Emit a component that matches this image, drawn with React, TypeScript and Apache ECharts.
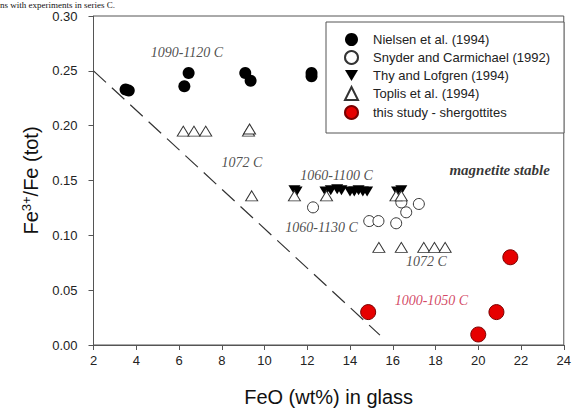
import React, { useEffect, useRef } from "react";
import * as echarts from "echarts";

const seriesNames = [
  "Nielsen et al. (1994)",
  "Snyder and Carmichael (1992)",
  "Thy and Lofgren (1994)",
  "Toplis et al. (1994)",
  "this study - shergottites",
];

const nielsenX = [3.5, 3.65, 6.25, 6.45, 9.1, 9.35, 12.2, 12.2];
const nielsenY = [0.233, 0.232, 0.236, 0.248, 0.248, 0.241, 0.248, 0.245];

const snyderX = [12.27, 14.9, 15.33, 16.16, 16.63, 16.4, 17.22];
const snyderY = [0.1255, 0.113, 0.113, 0.111, 0.121, 0.13, 0.1286];

const thyX = [11.4, 11.5, 12.85, 13.1, 13.4, 13.6, 14.0, 14.2, 14.4, 14.6, 14.8, 16.2, 16.4];
const thyY = [0.141, 0.14, 0.14, 0.141, 0.142, 0.141, 0.14, 0.14, 0.141, 0.14, 0.14, 0.14, 0.141];

const toplisX = [6.2, 6.7, 7.25, 9.25, 9.3, 9.4, 11.4, 12.9, 16.15, 16.4, 15.35, 16.4, 17.45, 17.95, 18.45];
const toplisY = [0.195, 0.195, 0.195, 0.195, 0.197, 0.136, 0.136, 0.136, 0.136, 0.136, 0.089, 0.089, 0.089, 0.089, 0.089];

const studyX = [14.85, 20.0, 20.85, 21.5];
const studyY = [0.03, 0.0096, 0.03, 0.08];

const boundaryX = [2, 15.4];
const boundaryY = [0.25, 0.009];

const noteTexts = ["1090-1120 C", "1072 C", "1060-1100 C", "magnetite stable", "1060-1130 C", "1072 C", "1000-1050 C"];
const noteX = [6.37, 8.94, 13.37, 21.0, 12.67, 17.58, 17.81];
const noteY = [0.267, 0.1665, 0.155, 0.16, 0.1067, 0.0758, 0.0405];

const headerText = "ns with experiments in series C.";

const xTicks = { min: 2, max: 24, step: 2 };
const yTicks = { min: 0, max: 0.3, step: 0.05 };

const zip = (xs: number[], ys: number[]) => xs.map((x, i) => [x, ys[i]]);

export default function App() {
  const ref = useRef<HTMLDivElement>(null);
  useEffect(() => {
    if (!ref.current) return;
    const chart = echarts.init(ref.current, null, { renderer: "svg" });
    const sans = "Liberation Sans, Arial, sans-serif";
    const serif = "Liberation Serif, Times New Roman, serif";
    const noteData = noteTexts.map((t, i) => {
      const isBold = t === "magnetite stable";
      const isRed = i === noteTexts.length - 1;
      return {
        value: [noteX[i], noteY[i]],
        label: {
          show: true,
          position: "inside",
          formatter: t,
          fontFamily: serif,
          fontStyle: "italic",
          fontWeight: isBold ? "bold" : "normal",
          fontSize: isBold ? 15 : 14,
          color: isRed ? "#c8143c" : isBold ? "#000" : "#222",
        },
      };
    });
    chart.setOption({
      animation: false,
      backgroundColor: "#fff",
      grid: {
        left: 93.5,
        right: 10,
        top: 16,
        bottom: 66.5,
        show: true,
        borderColor: "#555",
        borderWidth: 1,
      },
      legend: {
        data: seriesNames,
        orient: "vertical",
        left: 326,
        top: 22,
        padding: [11, 14, 13, 18],
        itemGap: 4,
        itemWidth: 13,
        itemHeight: 13,
        borderColor: "#555",
        borderWidth: 1,
        backgroundColor: "#fff",
        textStyle: { fontFamily: sans, fontSize: 13, color: "#222", padding: [0, 0, 0, 10] },
      },
      graphic: [
        {
          type: "text",
          left: 0,
          top: 0,
          style: {
            text: headerText,
            font: "9px " + serif,
            lineHeight: 9,
            fill: "#111",
          },
        },
      ],
      xAxis: {
        type: "value",
        min: xTicks.min,
        max: xTicks.max,
        interval: xTicks.step,
        name: "FeO (wt%) in glass",
        nameLocation: "middle",
        nameGap: 42,
        nameTextStyle: { fontFamily: sans, fontSize: 20, color: "#111" },
        axisLine: { lineStyle: { color: "#555" } },
        axisTick: { show: true, inside: false, length: 5, lineStyle: { color: "#555" } },
        axisLabel: { fontFamily: sans, fontSize: 13, color: "#222", margin: 9 },
        splitLine: { show: false },
      },
      yAxis: {
        type: "value",
        min: yTicks.min,
        max: yTicks.max,
        interval: yTicks.step,
        name: "Fe{sup|3+}/Fe (tot)",
        nameLocation: "middle",
        nameGap: 50,
        nameTextStyle: {
          fontFamily: sans,
          fontSize: 20,
          color: "#111",
          rich: {
            sup: { fontFamily: sans, fontSize: 13, color: "#111", verticalAlign: "bottom", padding: [0, 0, 9, 0] },
          },
        },
        axisLine: { lineStyle: { color: "#555" } },
        axisTick: { show: true, inside: false, length: 5, lineStyle: { color: "#555" } },
        axisLabel: {
          fontFamily: sans,
          fontSize: 13,
          lineHeight: 13,
          color: "#222",
          margin: 16,
          formatter: (v: number) => v.toFixed(2),
        },
        splitLine: { show: false },
      },
      series: [
        {
          name: "boundary",
          type: "line",
          data: zip(boundaryX, boundaryY),
          symbol: "none",
          lineStyle: { color: "#333", width: 1.2, type: [17, 8] },
          silent: true,
          z: 1,
        },
        {
          name: seriesNames[0],
          type: "scatter",
          data: zip(nielsenX, nielsenY),
          symbol: "circle",
          symbolSize: 12,
          itemStyle: { color: "#000", opacity: 1 },
          z: 2,
        },
        {
          name: seriesNames[1],
          type: "scatter",
          data: zip(snyderX, snyderY),
          symbol: "circle",
          symbolSize: 11,
          itemStyle: { color: "#fff", borderColor: "#333", borderWidth: 1, opacity: 1 },
          z: 3,
        },
        {
          name: seriesNames[2],
          type: "scatter",
          data: zip(thyX, thyY),
          symbol: "path://M0,0 L12,0 L6,10 Z",
          symbolSize: [12, 10],
          itemStyle: { color: "#000", opacity: 1 },
          z: 4,
        },
        {
          name: seriesNames[3],
          type: "scatter",
          data: zip(toplisX, toplisY),
          symbol: "triangle",
          symbolSize: [12, 10],
          itemStyle: { color: "#fff", borderColor: "#333", borderWidth: 1, opacity: 1 },
          z: 5,
        },
        {
          name: seriesNames[4],
          type: "scatter",
          data: zip(studyX, studyY),
          symbol: "circle",
          symbolSize: 15,
          itemStyle: { color: "#e60000", borderColor: "#7a0000", borderWidth: 1, opacity: 1 },
          z: 6,
        },
        {
          name: "notes",
          type: "scatter",
          data: noteData,
          symbolSize: 1,
          itemStyle: { color: "rgba(0,0,0,0)" },
          silent: true,
          z: 7,
        },
      ],
    });
    return () => chart.dispose();
  }, []);
  return (
    <div
      ref={ref}
      style={{ position: "fixed", left: 0, top: 0, width: 574, height: 412 }}
    />
  );
}
